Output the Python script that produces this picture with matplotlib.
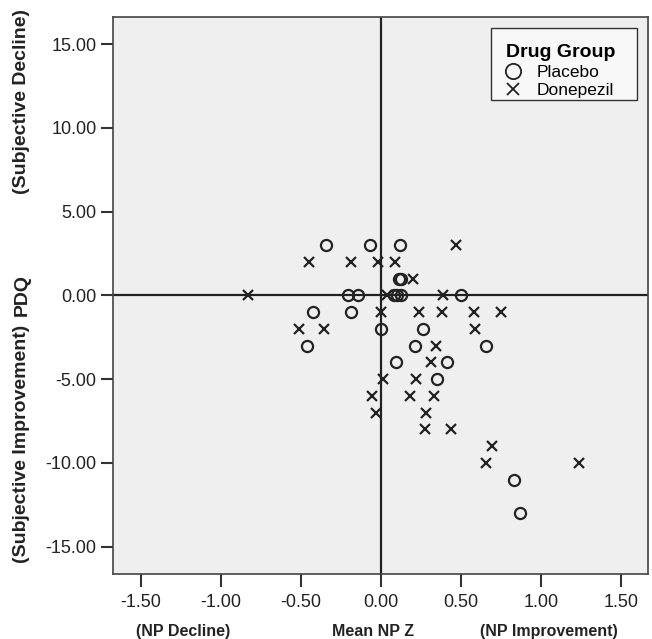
import matplotlib
matplotlib.use("Agg")
import matplotlib.pyplot as plt
from matplotlib.lines import Line2D
from matplotlib.patches import Rectangle

plt.rcParams["font.family"] = ["Liberation Sans", "DejaVu Sans"]

# Mean NP Z (x) and PDQ change (y) per participant
placebo_x = [-0.343, -0.066, 0.119, 0.115, 0.125, -0.204, -0.145, 0.080, 0.100, 0.125,
             0.503, -0.426, -0.187, 0.0, 0.264, -0.463, 0.216, 0.659, 0.094, 0.414,
             0.351, 0.830, 0.871]
placebo_y = [3, 3, 3, 1, 1, 0, 0, 0, 0, 0,
             0, -1, -1, -2, -2, -3, -3, -3, -4, -4,
             -5, -11, -13]

donepezil_x = [0.472, -0.447, -0.183, -0.017, 0.087, 0.200, -0.828, 0.036, 0.389, 0.0,
               0.239, 0.379, 0.582, 0.753, -0.510, -0.354, 0.586, 0.343, 0.312, 0.014,
               0.218, -0.058, 0.181, 0.333, -0.027, 0.285, 0.279, 0.441, 0.697, 0.659,
               1.237]
donepezil_y = [3, 2, 2, 2, 2, 1, 0, 0, 0, -1,
               -1, -1, -1, -1, -2, -2, -2, -3, -4, -5,
               -5, -6, -6, -6, -7, -7, -8, -8, -9, -10,
               -10]

x_ticks = [-1.5, -1.0, -0.5, 0.0, 0.5, 1.0, 1.5]
y_ticks = [15, 10, 5, 0, -5, -10, -15]

ink = "#222222"
W, H = 652, 639

fig = plt.figure(figsize=(W / 100, H / 100), dpi=100)
ax = fig.add_axes([113.3 / W, 1 - 574 / H, 535 / W, 557.3 / H])
ax.set_facecolor("#efefef")

ax.axhline(0, color=ink, linewidth=1.6, zorder=1)
ax.axvline(0, color=ink, linewidth=1.6, zorder=1)

ax.plot(placebo_x, placebo_y, linestyle="none", marker="o", markersize=8,
        markerfacecolor="none", markeredgecolor=ink, markeredgewidth=1.6, zorder=3)
ax.plot(donepezil_x, donepezil_y, linestyle="none", marker="x", markersize=6.5,
        markeredgecolor=ink, markeredgewidth=1.6, zorder=3)

ax.set_xlim(-1.67, 1.67)
ax.set_ylim(-16.63, 16.63)
ax.set_xticks(x_ticks)
ax.set_xticklabels([f"{v:.2f}" for v in x_ticks])
ax.set_yticks(y_ticks)
ax.set_yticklabels([f"{v:.2f}" for v in y_ticks])
ax.tick_params(axis="both", direction="out", length=9, width=1.5, color="#333333",
               labelsize=13, labelcolor=ink, pad=3)
ax.tick_params(axis="x", pad=5.5)
for s in ax.spines.values():
    s.set_color("#444444")
    s.set_linewidth(1.2)

# axis annotations
lab = dict(fontweight="bold", color=ink, ha="center", va="center")
fig.text(183 / W, 1 - 631.5 / H, "(NP Decline)", fontsize=11.5, **lab)
fig.text(373 / W, 1 - 631.5 / H, "Mean NP Z", fontsize=11.5, **lab)
fig.text(549 / W, 1 - 631.5 / H, "(NP Improvement)", fontsize=11.5, **lab)
fig.text(22 / W, 1 - 102 / H, "(Subjective Decline)", rotation=90, fontsize=14, **lab)
fig.text(22 / W, 1 - 295 / H, "PDQ", rotation=90, fontsize=14, **lab)
fig.text(22 / W, 1 - 444 / H, "(Subjective Improvement)", rotation=90, fontsize=14, **lab)

# legend box drawn separately so its padding matches the original
ax.add_patch(Rectangle(((491 - 113.3) / 535, 1 - (100 - 16.7) / 557.3), 146 / 535, 72 / 557.3,
                       transform=ax.transAxes, facecolor="#f8f8f8", edgecolor="#333333",
                       linewidth=1.0, zorder=4, clip_on=False))
handles = [
    Line2D([], [], linestyle="none", marker="o", markersize=11, markerfacecolor="none",
           markeredgecolor=ink, markeredgewidth=1.3),
    Line2D([], [], linestyle="none", marker="x", markersize=8.5, markeredgecolor=ink,
           markeredgewidth=1.3),
]
leg = ax.legend(handles, ["Placebo", "Donepezil"], title="Drug Group",
                loc="upper left", bbox_to_anchor=((506 - 113.3) / 535, 1 - (44 - 16.7) / 557.3),
                borderaxespad=0, borderpad=0, fontsize=12.5,
                title_fontproperties={"weight": "bold", "size": 14},
                alignment="left", frameon=False, handlelength=0.8, handletextpad=0.95,
                labelspacing=0.2)
leg.set_zorder(5)

fig.savefig("out.png", dpi=100)
